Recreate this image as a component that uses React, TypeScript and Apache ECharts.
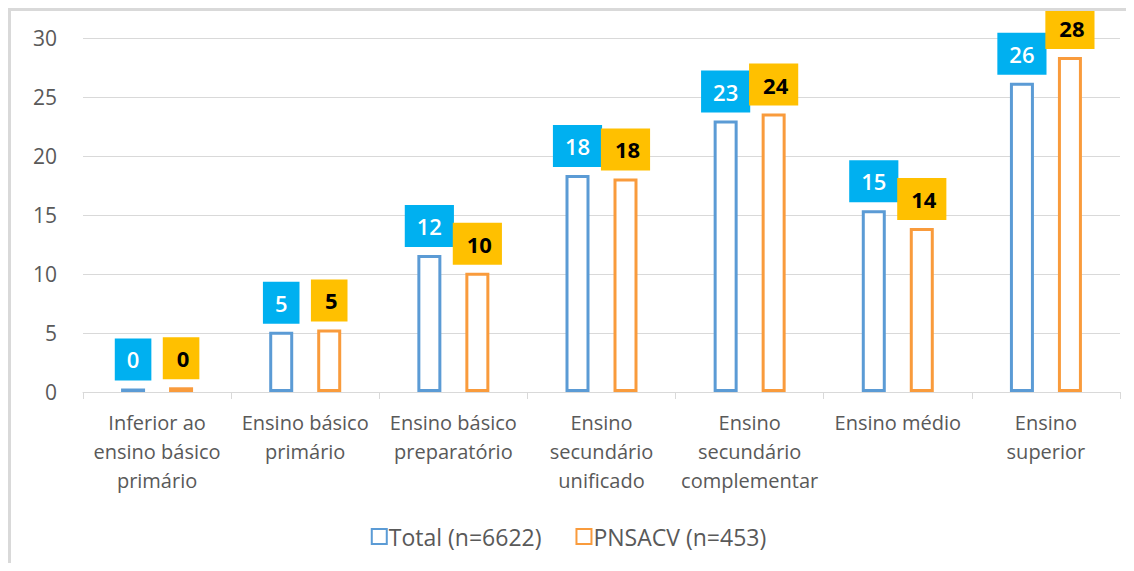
import React, { useEffect, useRef } from "react";
import * as echarts from "echarts";

const categories = [
  "Inferior ao\nensino básico\nprimário",
  "Ensino básico\nprimário",
  "Ensino básico\npreparatório",
  "Ensino\nsecundário\nunificado",
  "Ensino\nsecundário\ncomplementar",
  "Ensino médio",
  "Ensino\nsuperior",
];
const totalValues = [0.3, 5.1, 11.6, 18.4, 23.0, 15.4, 26.2];
const pnsacvValues = [0.4, 5.3, 10.1, 18.1, 23.6, 13.9, 28.4];
const seriesNames = ["Total (n=6622)", "PNSACV (n=453)"];
const yTicks = { min: 0, max: 30, interval: 5 };

const FONT = "'Open Sans', Lato, sans-serif";

export default function App() {
  const ref = useRef<HTMLDivElement>(null);
  useEffect(() => {
    if (!ref.current) return;
    const chart = echarts.init(ref.current, undefined, { renderer: "svg" });
    const fmt = (p: any) => String(Math.round(p.value));
    chart.setOption({
      animation: false,
      textStyle: { fontFamily: FONT },
      grid: { left: 72, right: 6, top: 27, bottom: 171, containLabel: false },
      legend: {
        bottom: 10,
        left: "center",
        icon: "rect",
        itemWidth: 15,
        itemHeight: 15,
        itemGap: 34,
        textStyle: { fontSize: 23, color: "#595959", fontFamily: FONT, padding: [0, 0, 0, -3] },
        data: seriesNames,
      },
      xAxis: {
        type: "category",
        data: categories,
        axisLine: { lineStyle: { color: "#d9d9d9", width: 1 } },
        axisTick: { show: true, length: 7, interval: 0, lineStyle: { color: "#d9d9d9" } },
        axisLabel: {
          interval: 0,
          margin: 16,
          fontSize: 20,
          lineHeight: 29,
          color: "#595959",
          fontFamily: FONT,
        },
      },
      yAxis: {
        type: "value",
        min: yTicks.min,
        max: yTicks.max,
        interval: yTicks.interval,
        axisLine: { show: false },
        axisTick: { show: false },
        axisLabel: { fontSize: 21, color: "#595959", margin: 26, fontFamily: FONT },
        splitLine: { lineStyle: { color: "#d9d9d9", width: 1 } },
      },
      series: [
        {
          name: seriesNames[0],
          type: "bar",
          data: totalValues,
          barWidth: 24,
          barGap: "100%",
          itemStyle: { color: "#ffffff", borderColor: "#5B9BD5", borderWidth: 3 },
          label: {
            show: true,
            position: "top",
            distance: 8,
            formatter: fmt,
            backgroundColor: "#00B0F0",
            color: "#ffffff",
            fontSize: 22,
            fontWeight: 600,
            lineHeight: 24,
            padding: [9, 12, 9, 12],
            fontFamily: FONT,
          },
        },
        {
          name: seriesNames[1],
          type: "bar",
          data: pnsacvValues,
          barWidth: 24,
          barGap: "100%",
          itemStyle: { color: "#ffffff", borderColor: "#F99B3C", borderWidth: 3 },
          label: {
            show: true,
            position: "top",
            distance: 8,
            formatter: fmt,
            backgroundColor: "#FFC000",
            color: "#000000",
            fontSize: 22,
            fontWeight: "bold",
            lineHeight: 24,
            padding: [9, 10, 9, 14],
            fontFamily: FONT,
          },
        },
      ],
    });
    return () => chart.dispose();
  }, []);
  return (
    <div
      ref={ref}
      style={{
        width: 1118,
        height: 555,
        boxSizing: "border-box",
        borderLeft: "3px solid #d9d9d9",
        borderTop: "3px solid #d9d9d9",
        background: "#fff",
      }}
    />
  );
}
